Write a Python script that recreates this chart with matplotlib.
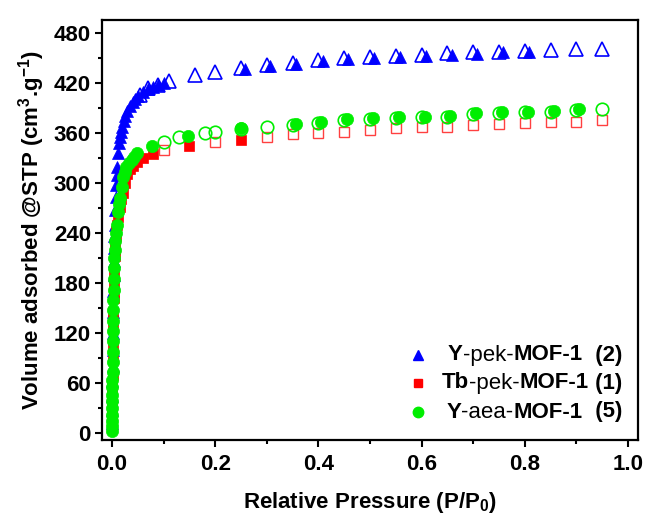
import matplotlib
matplotlib.use("Agg")
import matplotlib.pyplot as plt
from matplotlib.offsetbox import TextArea, HPacker, AnchoredOffsetbox
from matplotlib.lines import Line2D
from matplotlib.ticker import MultipleLocator

plt.rcParams['font.family'] = ['Liberation Sans', 'DejaVu Sans']
plt.rcParams['mathtext.fontset'] = 'custom'
plt.rcParams['mathtext.rm'] = 'Liberation Sans'
plt.rcParams['mathtext.bf'] = 'Liberation Sans:bold'

# ---- data ----
blue_ads_x = [0.0002, 0.0004, 0.0006, 0.0008, 0.001, 0.0013, 0.0016, 0.002, 0.0025, 0.003,
              0.0035, 0.004, 0.0045, 0.005, 0.006, 0.007, 0.008, 0.009, 0.010, 0.012,
              0.014, 0.016, 0.018, 0.020, 0.023, 0.026, 0.030, 0.035, 0.040, 0.045,
              0.050, 0.060, 0.070, 0.080, 0.090, 0.100, 0.257, 0.306,
              0.356, 0.408, 0.458, 0.508, 0.558, 0.608, 0.658, 0.708, 0.758, 0.808]
blue_ads_y = [12, 28, 45, 62, 80, 100, 120, 145, 170, 190,
              207, 222, 236, 250, 268, 284, 298, 310, 320, 336,
              348, 356, 362, 368, 375, 381, 387, 393, 397, 401,
              405, 410, 413, 416, 418, 420, 437, 441,
              443, 447, 449, 450, 451, 453, 454, 455, 457, 458]
blue_des_x = [0.95, 0.90, 0.85, 0.80, 0.75, 0.70, 0.65, 0.60, 0.55, 0.50, 0.45,
              0.40, 0.35, 0.30, 0.25, 0.20, 0.16, 0.11, 0.09, 0.07, 0.054]
blue_des_y = [461, 461, 460, 459, 458, 457, 456, 454, 453, 451, 450,
              448, 444, 442, 438, 434, 430, 423, 418, 414, 406]

red_ads_x = [0.0002, 0.0004, 0.0006, 0.0008, 0.001, 0.0013, 0.0016, 0.002, 0.0025, 0.003,
             0.0035, 0.004, 0.005, 0.006, 0.007, 0.008, 0.010, 0.012, 0.015, 0.018,
             0.021, 0.025, 0.029, 0.035, 0.041, 0.048, 0.060, 0.080, 0.150, 0.250]
red_ads_y = [8, 22, 38, 54, 70, 88, 105, 125, 145, 162,
             178, 192, 212, 226, 236, 242, 250, 260, 272, 281,
             288, 300, 311, 317, 321, 325, 330, 335, 345, 352]
red_des_x = [0.95, 0.90, 0.85, 0.80, 0.75, 0.70, 0.65, 0.60, 0.55, 0.50, 0.45,
             0.40, 0.35, 0.30, 0.20, 0.10]
red_des_y = [376, 374, 373, 372, 371, 370, 368, 367, 366, 364, 362,
             360, 359, 355, 349, 340]

green_ads_x = [0.0001, 0.0002, 0.0003, 0.0004, 0.0005, 0.0006, 0.0007, 0.0008, 0.0009, 0.001,
               0.0012, 0.0014, 0.0016, 0.0018, 0.002, 0.0023, 0.0026, 0.003, 0.0035, 0.004,
               0.0045, 0.005, 0.006, 0.008, 0.010, 0.012, 0.014, 0.016, 0.019, 0.022,
               0.025, 0.028, 0.033, 0.038, 0.043, 0.048, 0.078, 0.147, 0.250, 0.356,
               0.406, 0.456, 0.506, 0.556, 0.606, 0.656, 0.706, 0.756, 0.806, 0.856, 0.906]
green_ads_y = [2, 8, 15, 22, 30, 38, 46, 55, 64, 73,
               85, 97, 110, 122, 135, 148, 160, 172, 185, 198,
               210, 220, 230, 240, 250, 265, 275, 282, 295, 307,
               314, 319, 324, 328, 332, 336, 345, 357, 366, 371,
               373, 377, 378, 379, 380, 381, 384, 385, 386, 387, 389]
green_des_x = [0.95, 0.90, 0.85, 0.80, 0.75, 0.70, 0.65, 0.60, 0.55, 0.50, 0.45,
               0.40, 0.35, 0.30, 0.25, 0.20, 0.18, 0.13, 0.10]
green_des_y = [389, 388, 386, 385, 384, 383, 380, 379, 378, 377, 376,
               372, 370, 367, 365, 361, 360, 355, 349]

x_ticks = [0.0, 0.2, 0.4, 0.6, 0.8, 1.0]
y_ticks = [0, 60, 120, 180, 240, 300, 360, 420, 480]

legend_rows = [
    [("Y", "bold"), ("-pek-", "normal"), ("MOF-1", "bold"), ("  (2)", "bold")],
    [("Tb", "bold"), ("-pek-", "normal"), ("MOF-1", "bold"), (" (1)", "bold")],
    [("Y", "bold"), ("-aea-", "normal"), ("MOF-1", "bold"), ("  (5)", "bold")],
]

BLUE = "#0000ff"
RED = "#ff0000"
GREEN = "#00ee00"

fig = plt.figure(figsize=(6.45, 5.16), dpi=100)
W, H = 645, 516
ax = fig.add_axes([102 / W, 1 - 440 / H, (638 - 102) / W, (440 - 20) / H])

# blue
ax.plot(blue_ads_x, blue_ads_y, ls='none', marker='^', ms=8.5, mfc=BLUE, mec=BLUE, mew=0.5)
ax.plot(blue_des_x, blue_des_y, ls='none', marker='^', ms=9.5, mfc='none', mec=BLUE, mew=1.2)
# red
ax.plot(red_ads_x, red_ads_y, ls='none', marker='s', ms=7, mfc=RED, mec=RED, mew=0.5)
ax.plot(red_des_x, red_des_y, ls='none', marker='s', ms=7.5, mfc='none', mec="#ff4040", mew=1.0)
# green
ax.plot(green_ads_x, green_ads_y, ls='none', marker='o', ms=8.8, mfc=GREEN, mec=GREEN, mew=0.5)
ax.plot(green_des_x, green_des_y, ls='none', marker='o', ms=9, mfc='none', mec=GREEN, mew=1.2)

ax.set_xlim(-0.0194, 1.0194)
ax.set_ylim(-8.4, 496)
ax.set_xticks(x_ticks)
ax.set_xticklabels([f"{v:.1f}" for v in x_ticks])
ax.set_yticks(y_ticks)
ax.set_yticklabels([str(v) for v in y_ticks])
ax.xaxis.set_minor_locator(MultipleLocator(0.1))
ax.yaxis.set_minor_locator(MultipleLocator(30))
ax.tick_params(which='major', direction='out', length=5, width=1.5, labelsize=16)
ax.tick_params(axis='x', which='major', pad=5)
ax.tick_params(axis='y', which='major', pad=3)
ax.tick_params(which='minor', direction='out', length=3, width=1.5)
ax.tick_params(top=False, right=False, which='both')
for lab in ax.get_xticklabels() + ax.get_yticklabels():
    lab.set_fontweight('bold')
for sp in ax.spines.values():
    sp.set_linewidth(1.6)

ax.set_xlabel(r"Relative Pressure (P/P$_\mathbf{0}$)", fontsize=16, fontweight='bold', labelpad=11)
ax.set_ylabel(r"Volume adsorbed @STP (cm$^\mathbf{3}$.g$^\mathbf{-1}$)", fontsize=16,
              fontweight='bold', labelpad=5)

# legend
row_y = [355, 383, 412]
markers = [('^', BLUE, 7.5), ('s', RED, 6), ('o', GREEN, 7.5)]
for pieces, yp, (m, c, s) in zip(legend_rows, row_y, markers):
    fy = 1 - yp / H
    fig.add_artist(Line2D([418 / W], [fy], transform=fig.transFigure, ls='none',
                          marker=m, ms=s, mfc=c, mec=c))
    areas = [TextArea(t, textprops=dict(fontsize=16, fontweight=w, color='black'))
             for t, w in pieces]
    box = HPacker(children=areas, align='baseline', pad=0, sep=0)
    ab = AnchoredOffsetbox(loc='center right', child=box, pad=0, borderpad=0, frameon=False,
                           bbox_to_anchor=(622 / W, fy), bbox_transform=fig.transFigure)
    fig.add_artist(ab)

fig.savefig("out.png", dpi=100)
